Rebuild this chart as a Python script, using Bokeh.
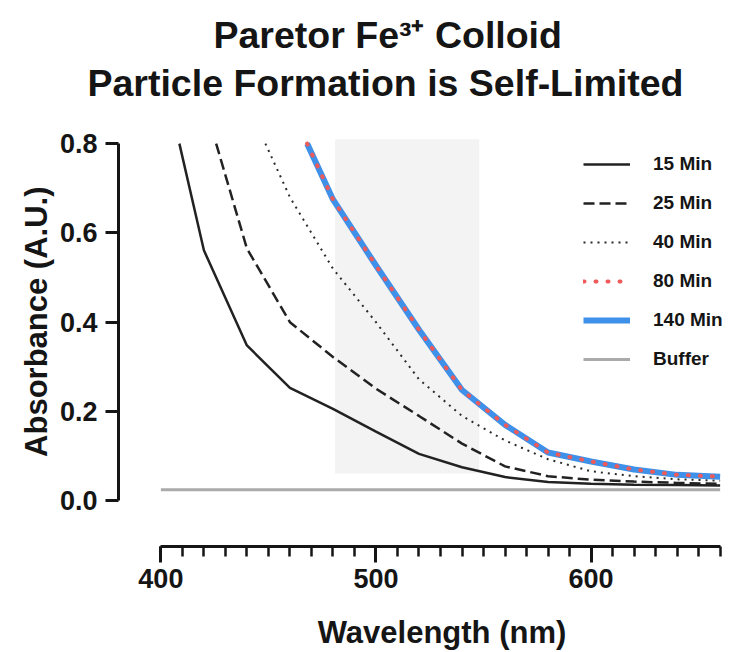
from bokeh.plotting import figure
from bokeh.models import Range1d, FixedTicker, Legend, LegendItem, Title, PrintfTickFormatter
from bokeh.embed import file_html
from bokeh.resources import INLINE

# ---- text ----
title_line1 = "Paretor Fe³⁺ Colloid"
title_line2 = "Particle Formation is Self-Limited"
x_label = "Wavelength (nm)"
y_label = "Absorbance (A.U.)"

# ---- data ----
wl_15 = [408.6, 420, 440, 460, 480, 500, 520, 540, 560, 580, 600, 620, 640, 660]
abs_15 = [0.80, 0.561, 0.348, 0.253, 0.206, 0.155, 0.105, 0.075, 0.053, 0.042, 0.038, 0.036, 0.035, 0.034]

wl_25 = [425.7, 440, 460, 480, 500, 520, 540, 560, 580, 600, 620, 640, 660]
abs_25 = [0.80, 0.565, 0.40, 0.322, 0.251, 0.19, 0.128, 0.077, 0.055, 0.047, 0.043, 0.040, 0.038]

wl_40 = [448.6, 460, 480, 500, 520, 540, 560, 580, 600, 620, 640, 660]
abs_40 = [0.80, 0.68, 0.52, 0.40, 0.272, 0.19, 0.135, 0.093, 0.066, 0.055, 0.048, 0.045]

wl_80 = [468.0, 480, 500, 520, 540, 560, 580, 600, 620, 640, 660]
abs_80 = [0.80, 0.675, 0.527, 0.383, 0.248, 0.17, 0.108, 0.088, 0.070, 0.058, 0.054]

wl_140 = [468.0, 480, 500, 520, 540, 560, 580, 600, 620, 640, 660]
abs_140 = [0.80, 0.675, 0.527, 0.383, 0.248, 0.17, 0.108, 0.088, 0.070, 0.058, 0.054]

wl_buffer = [400, 660]
abs_buffer = [0.0244, 0.0244]

band_left = [481]
band_right = [548]
band_bottom = [0.061]
band_top = [0.81]

x_ticks = [400, 500, 600]
x_minor_ticks = list(range(400, 661, 10))
y_ticks = [0.0, 0.2, 0.4, 0.6, 0.8]

series_labels = ["15 Min", "25 Min", "40 Min", "80 Min", "140 Min", "Buffer"]

FONT = "Liberation Sans"
INK = "#151515"
NBSP = "\u00a0"

p = figure(width=722, height=652, title=None,
           x_range=Range1d(380.3, 661.1), y_range=Range1d(-0.1025, 0.8115),
           output_backend="svg", toolbar_location=None,
           min_border_left=118, min_border_right=0,
           min_border_top=138, min_border_bottom=106)
p.outline_line_color = None
p.xgrid.visible = False
p.ygrid.visible = False
p.background_fill_color = "white"
p.border_fill_color = "white"

# shaded band
p.quad(left=band_left, right=band_right, bottom=band_bottom, top=band_top,
       fill_color="#f3f3f3", line_color=None)

r_buf = p.line(wl_buffer, abs_buffer, line_color="#aaaaaa", line_width=3)
r15 = p.line(wl_15, abs_15, line_color="#222222", line_width=2.5)
r25 = p.line(wl_25, abs_25, line_color="#222222", line_width=2.5, line_dash="11 5")
r40 = p.line(wl_40, abs_40, line_color="#2a2a2a", line_width=2, line_dash="2 5")
r140 = p.line(wl_140, abs_140, line_color="#3f90e8", line_width=6)
r80 = p.line(wl_80, abs_80, line_color="#ee5a5a", line_width=4, line_dash="1 11", line_cap="round")

# axes
for ax in (p.xaxis[0], p.yaxis[0]):
    ax.axis_line_width = 3
    ax.axis_line_color = INK
    ax.major_tick_line_width = 3
    ax.major_tick_line_color = INK
    ax.minor_tick_line_width = 2.5
    ax.minor_tick_line_color = INK
    ax.major_tick_in = 0
    ax.minor_tick_in = 0
    ax.major_label_text_font = FONT
    ax.major_label_text_font_style = "bold"
    ax.major_label_text_font_size = "27px"
    ax.major_label_text_color = INK

p.xaxis.ticker = FixedTicker(ticks=x_ticks, minor_ticks=x_minor_ticks)
p.xaxis.bounds = (400, 660)
p.xaxis.major_tick_out = 16
p.xaxis.minor_tick_out = 10
p.xaxis.major_label_standoff = 6
# centre the label on the bounded axis (400-660) rather than the frame
p.xaxis.axis_label = NBSP * 5 + x_label
p.xaxis.axis_label_text_font = FONT
p.xaxis.axis_label_text_font_style = "bold"
p.xaxis.axis_label_text_font_size = "31px"
p.xaxis.axis_label_text_color = INK
p.xaxis.axis_label_standoff = 24

p.yaxis.ticker = FixedTicker(ticks=y_ticks)
p.yaxis.bounds = (0, 0.8)
p.yaxis.formatter = PrintfTickFormatter(format="%.1f")
p.yaxis.major_tick_out = 13
p.yaxis.major_label_standoff = 8

# titles (first added sits closest to the frame); a thin spacer first
p.add_layout(Title(text=" ", text_font_size="1px", standoff=32), "above")
p.add_layout(Title(text=title_line2, align="left", offset=-31, text_font=FONT,
                   text_font_style="bold", text_font_size="37.5px",
                   text_color=INK, standoff=0), "above")
p.add_layout(Title(text=title_line1, align="left", offset=95, text_font=FONT,
                   text_font_style="bold", text_font_size="37.5px",
                   text_color=INK, standoff=8), "above")

p.add_layout(Title(text=y_label, align="right", offset=48, text_font=FONT,
                   text_font_style="bold", text_font_size="31px",
                   text_color=INK, standoff=6), "left")

legend = Legend(items=[
    LegendItem(label=series_labels[0], renderers=[r15]),
    LegendItem(label=series_labels[1], renderers=[r25]),
    LegendItem(label=series_labels[2], renderers=[r40]),
    LegendItem(label=series_labels[3], renderers=[r80]),
    LegendItem(label=series_labels[4], renderers=[r140]),
    LegendItem(label=series_labels[5], renderers=[r_buf]),
], location=(465, 176), glyph_width=47, glyph_height=22, label_height=22,
    spacing=17, label_standoff=23, padding=0, margin=0,
    border_line_color=None, background_fill_alpha=0,
    label_text_font=FONT, label_text_font_style="bold",
    label_text_font_size="19px", label_text_color=INK)
p.add_layout(legend)

open("out.html", "w").write(file_html(p, INLINE))
